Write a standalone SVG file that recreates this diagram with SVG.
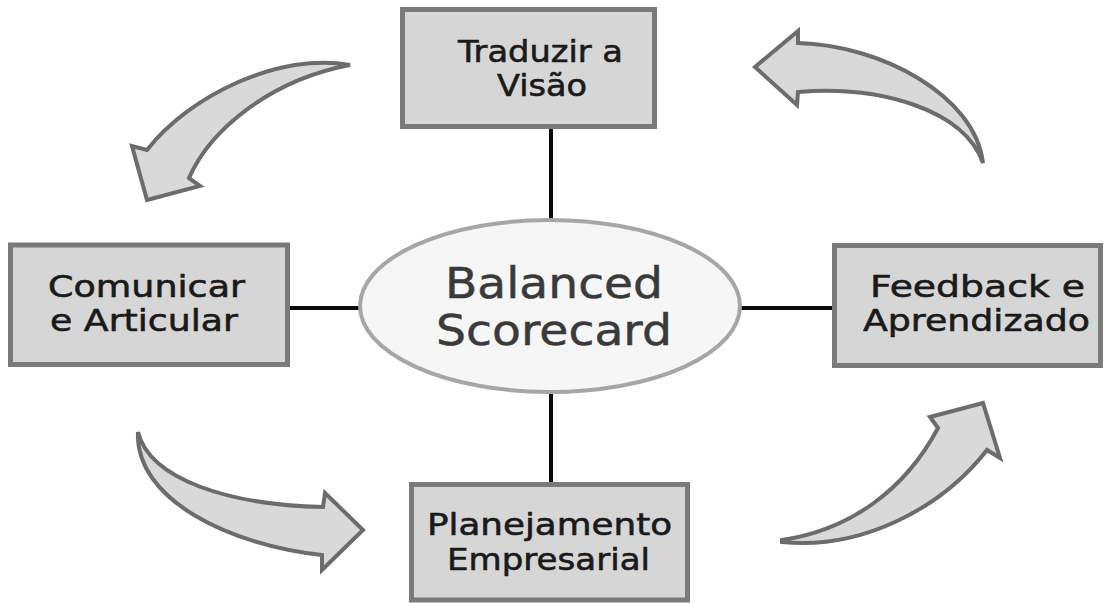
<svg xmlns="http://www.w3.org/2000/svg" width="1106" height="603" viewBox="0 0 1106 603">
  <style>
    .box { fill: #d6d6d6; stroke: #7a7a7a; stroke-width: 5; }
    .hub { fill: #f6f6f6; stroke: #a6a6a6; stroke-width: 4; }
    .link { stroke: #0a0a0a; stroke-width: 4; fill: none; }
    .flow { fill: #d9d9d9; stroke: #6c6c6c; stroke-width: 4; stroke-linejoin: miter; }
    .lbl { font-family: "DejaVu Sans", "Liberation Sans", sans-serif; font-size: 31px; fill: #1a1a1a; stroke: #1a1a1a; stroke-width: 0.6; }
    .hubtxt { font-family: "DejaVu Sans", "Liberation Sans", sans-serif; font-size: 43px; fill: #3a3a3a; stroke: #3a3a3a; stroke-width: 0.5; }
  </style>
  <rect width="1106" height="603" fill="#ffffff"/>

  <!-- curved flow arrows around the hub -->
  <g id="flow-arrows">
    <path class="flow" d="M 350 65 C 280 52, 190 95, 147 150 L 132 146 L 147 200 L 200 186 L 189 178 C 210 130, 270 80, 350 65 Z"/>
    <path class="flow" d="M 755 67 L 798 31 L 798 43 C 880 45, 975 95, 983 163 C 965 110, 880 85, 798 92 L 797 105 Z"/>
    <path class="flow" d="M 138 432 C 150 480, 230 505, 323 507 L 325 493 L 363 530 L 322 570 L 322 555 C 230 545, 135 500, 138 432 Z"/>
    <path class="flow" d="M 782 540 C 850 530, 905 490, 938 428 L 930 417 L 983 403 L 1000 458 L 987 450 C 940 510, 860 550, 782 542 Z"/>
  </g>

  <!-- straight links from the hub to each box -->
  <g id="connectors">
    <line class="link" x1="551" y1="128" x2="551" y2="220"/>
    <line class="link" x1="290" y1="308" x2="359" y2="308"/>
    <line class="link" x1="741" y1="308" x2="832" y2="308"/>
    <line class="link" x1="551" y1="391" x2="551" y2="482"/>
  </g>

  <g id="hub">
    <ellipse class="hub" cx="550" cy="306" rx="190" ry="86"/>
    <text class="hubtxt" x="445" y="298" textLength="218" lengthAdjust="spacingAndGlyphs">Balanced</text>
    <text class="hubtxt" x="436" y="345" textLength="236" lengthAdjust="spacingAndGlyphs">Scorecard</text>
  </g>

  <g id="traduzir">
    <rect class="box" x="402.5" y="9.5" width="252" height="117"/>
    <text class="lbl" x="458" y="62" textLength="165" lengthAdjust="spacingAndGlyphs">Traduzir a</text>
    <text class="lbl" x="497" y="96" textLength="90" lengthAdjust="spacingAndGlyphs">Visão</text>
  </g>

  <g id="comunicar">
    <rect class="box" x="10.5" y="245" width="277" height="119.5"/>
    <text class="lbl" x="48" y="297" textLength="197" lengthAdjust="spacingAndGlyphs">Comunicar</text>
    <text class="lbl" x="50" y="331" textLength="188" lengthAdjust="spacingAndGlyphs">e Articular</text>
  </g>

  <g id="feedback">
    <rect class="box" x="834.5" y="245.5" width="266" height="120"/>
    <text class="lbl" x="870" y="297" textLength="215" lengthAdjust="spacingAndGlyphs">Feedback e</text>
    <text class="lbl" x="863" y="331" textLength="227" lengthAdjust="spacingAndGlyphs">Aprendizado</text>
  </g>

  <g id="planejamento">
    <rect class="box" x="411.5" y="484.5" width="276" height="115.5"/>
    <text class="lbl" x="427" y="535" textLength="245" lengthAdjust="spacingAndGlyphs">Planejamento</text>
    <text class="lbl" x="447" y="570" textLength="203" lengthAdjust="spacingAndGlyphs">Empresarial</text>
  </g>
</svg>
